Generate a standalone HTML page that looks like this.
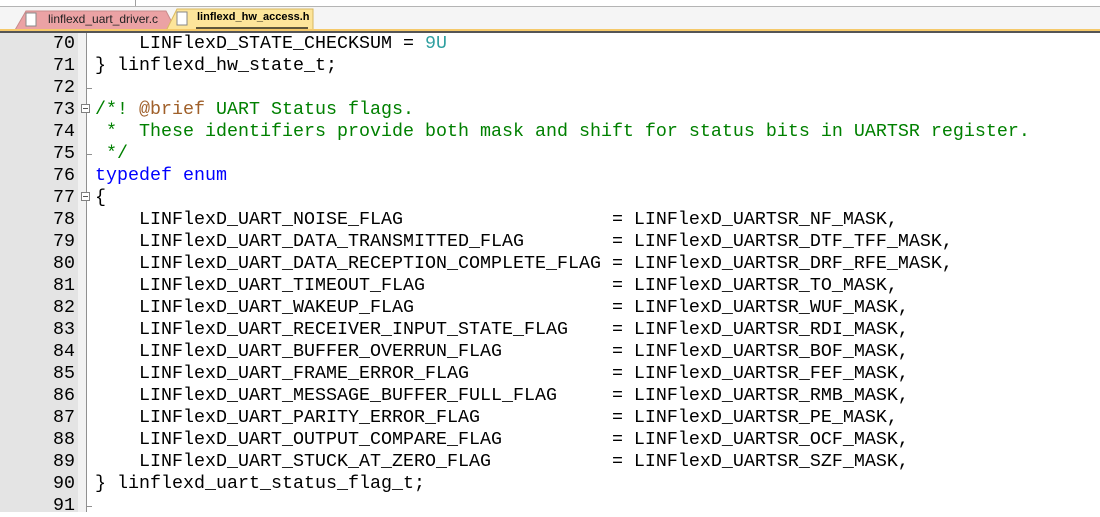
<!DOCTYPE html>
<html><head><meta charset="utf-8"><style>
html,body{margin:0;padding:0;width:1100px;height:512px;overflow:hidden;background:#fff;}
.top{position:absolute;left:0;top:0;width:1100px;height:6px;background:#fff;}
.vl{position:absolute;left:135px;top:0;width:1px;height:6px;background:#a0a0a0;}
.bar{position:absolute;left:0;top:6px;width:1100px;height:23px;background:#f5f5f5;border-top:1px solid #b4b4b4;}
.y1{position:absolute;left:0;top:29px;width:1100px;height:2px;background:#f5c96a;}
.y2{position:absolute;left:0;top:31px;width:1100px;height:2px;background:#555;}
.tab{position:absolute;font-family:"Liberation Sans",sans-serif;font-size:12px;}
.gut{position:absolute;left:0;top:33px;width:78px;height:479px;background:#e4e4e4;}
.fold{position:absolute;left:78px;top:33px;width:8px;height:479px;background:#f2f2f2;}
.foldl{position:absolute;left:86px;top:33px;width:1px;height:479px;background:#909090;}
.ln{position:absolute;left:0;width:75px;text-align:right;font-family:"Liberation Mono",monospace;font-size:18.33px;line-height:22px;color:#000;}
.code{position:absolute;left:95px;top:33px;font-family:"Liberation Mono",monospace;font-size:18.33px;line-height:22px;white-space:pre;color:#000;}
.c{color:#008000}.k{color:#0000ff}.n{color:#2f9fa0}.d{color:#a0602a}
.box{position:absolute;left:81px;width:9px;height:9px;background:#fff;border:1px solid #808080;box-sizing:border-box;}
.box:after{content:"";position:absolute;left:1px;top:3px;width:5px;height:1px;background:#555;}
.tick{position:absolute;left:86px;width:6px;height:1px;background:#909090;}
</style></head><body>
<div class="top"></div><div class="vl"></div>
<div class="bar"></div>
<svg style="position:absolute;left:0;top:0" width="330" height="33">
<polygon points="15,30 26,11 166,11 176,30" fill="#eba2a4" stroke="#c98a8a"/>
<polygon points="166,31 177,9 313,9 313,31" fill="#fde59a" stroke="#d8b860"/>
<rect x="26" y="13" width="10" height="13" fill="#fff" stroke="#888"/>
<rect x="177" y="12" width="10" height="13" fill="#fff" stroke="#888"/>
<line x1="196" y1="28" x2="308" y2="28" stroke="#000" stroke-width="1.3"/>
</svg>
<div class="y1"></div><div class="y2"></div>
<div class="tab" style="left:48px;top:12px;color:#222">linflexd_uart_driver.c</div>
<div class="tab" style="left:197px;top:11px;color:#000;font-weight:bold;font-size:11px">linflexd_hw_access.h</div>
<div class="gut"></div><div class="fold"></div><div class="foldl"></div>
<div class="ln" style="top:33px">70<br>71<br>72<br>73<br>74<br>75<br>76<br>77<br>78<br>79<br>80<br>81<br>82<br>83<br>84<br>85<br>86<br>87<br>88<br>89<br>90<br>91</div>
<div class="box" style="top:104px"></div>
<div class="box" style="top:192px"></div>
<div class="tick" style="top:88px"></div>
<div class="tick" style="top:154px"></div>
<div class="tick" style="top:506px"></div>
<div class="code">    LINFlexD_STATE_CHECKSUM = <span class="n">9U</span>
} linflexd_hw_state_t;

<span class="c">/*! <span class="d">@brief</span> UART Status flags.</span>
<span class="c"> *  These identifiers provide both mask and shift for status bits in UARTSR register.</span>
<span class="c"> */</span>
<span class="k">typedef enum</span>
{
    LINFlexD_UART_NOISE_FLAG                   = LINFlexD_UARTSR_NF_MASK,
    LINFlexD_UART_DATA_TRANSMITTED_FLAG        = LINFlexD_UARTSR_DTF_TFF_MASK,
    LINFlexD_UART_DATA_RECEPTION_COMPLETE_FLAG = LINFlexD_UARTSR_DRF_RFE_MASK,
    LINFlexD_UART_TIMEOUT_FLAG                 = LINFlexD_UARTSR_TO_MASK,
    LINFlexD_UART_WAKEUP_FLAG                  = LINFlexD_UARTSR_WUF_MASK,
    LINFlexD_UART_RECEIVER_INPUT_STATE_FLAG    = LINFlexD_UARTSR_RDI_MASK,
    LINFlexD_UART_BUFFER_OVERRUN_FLAG          = LINFlexD_UARTSR_BOF_MASK,
    LINFlexD_UART_FRAME_ERROR_FLAG             = LINFlexD_UARTSR_FEF_MASK,
    LINFlexD_UART_MESSAGE_BUFFER_FULL_FLAG     = LINFlexD_UARTSR_RMB_MASK,
    LINFlexD_UART_PARITY_ERROR_FLAG            = LINFlexD_UARTSR_PE_MASK,
    LINFlexD_UART_OUTPUT_COMPARE_FLAG          = LINFlexD_UARTSR_OCF_MASK,
    LINFlexD_UART_STUCK_AT_ZERO_FLAG           = LINFlexD_UARTSR_SZF_MASK,
} linflexd_uart_status_flag_t;
</div>
</body></html>
